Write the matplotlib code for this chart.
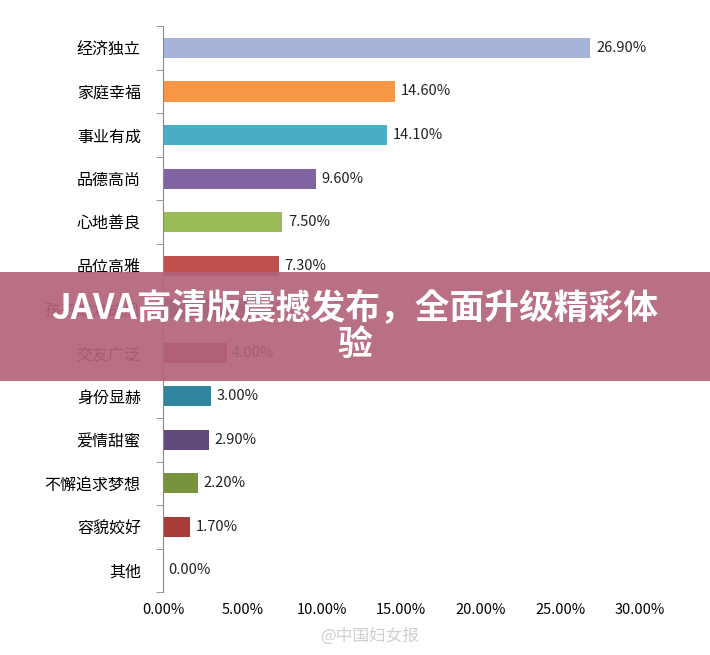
import matplotlib
matplotlib.use("Agg")
import matplotlib.pyplot as plt
from matplotlib import font_manager as fm
from matplotlib.patches import Rectangle
from matplotlib.ticker import FuncFormatter
import glob

for f in glob.glob("/usr/share/fonts/**/*", recursive=True) + glob.glob("/usr/local/share/fonts/**/*", recursive=True):
    if "CJK" in f and (f.endswith(".ttc") or f.endswith(".otf") or f.endswith(".ttf")):
        try:
            fm.fontManager.addfont(f)
        except Exception:
            pass
names = sorted({e.name for e in fm.fontManager.ttflist if "CJK" in e.name})
cjk = "Noto Sans CJK SC" if "Noto Sans CJK SC" in names else (names[0] if names else "DejaVu Sans")
plt.rcParams["font.family"] = [cjk, "DejaVu Sans"]

categories = ["经济独立", "家庭幸福", "事业有成", "品德高尚", "心地善良", "品位高雅",
              "孩子成龙成凤", "交友广泛", "身份显赫", "爱情甜蜜", "不懈追求梦想", "容貌姣好", "其他"]
values = [26.9, 14.6, 14.1, 9.6, 7.5, 7.3, 5.5, 4.0, 3.0, 2.9, 2.2, 1.7, 0.0]
colors = ["#A5B4D8", "#F79646", "#4BACC6", "#8064A2", "#9BBB59", "#C0504D",
          "#4BACC6", "#A5413E", "#31859C", "#604A7B", "#77933C", "#A83A37", "#A5B4D8"]
xticks = [0, 5, 10, 15, 20, 25, 30]

fig = plt.figure(figsize=(7.1, 6.55), dpi=100)
ax = fig.add_axes([0.2296, 0.096, 0.6714, 0.864])
y = list(range(len(categories)))
ax.barh(y, values, height=0.46, color=colors)
for yi, v in zip(y, values):
    ax.text(v + 0.35, yi, f"{v:.2f}%", va="center", ha="left", fontsize=10.5, color="#222")
ax.set_yticks(y)
ax.set_yticklabels(categories, fontsize=11.5)
ax.set_ylim(len(categories) - 0.5, -0.5)
ax.set_xlim(0, 30)
ax.set_xticks(xticks)
ax.xaxis.set_major_formatter(FuncFormatter(lambda v, p: f"{v:.2f}%"))
ax.tick_params(axis="x", labelsize=10.5, length=0, pad=8)
ax.set_yticks([i + 0.5 for i in range(-1, len(categories))], minor=True)
ax.tick_params(axis="y", which="minor", length=5, color="#888")
ax.tick_params(axis="y", which="major", length=0, pad=16)
for s in ["top", "right", "bottom"]:
    ax.spines[s].set_visible(False)
ax.spines["left"].set_color("#888")

fig.patches.append(Rectangle((0, (655 - 381) / 655), 1, 109 / 655, transform=fig.transFigure,
                             facecolor=(0.70, 0.39, 0.48), alpha=0.92, zorder=10))
fig.text(0.5, (655 - 326) / 655, "JAVA高清版震撼发布，全面升级精彩体\n验", ha="center", va="center",
         fontsize=25, fontweight="bold", color="white", zorder=11, linespacing=1.1)
fig.text(0.52, (655 - 636) / 655, "@中国妇女报", ha="center", va="center", fontsize=12,
         color="#bbbbbb", alpha=0.7)
fig.savefig("out.png", dpi=100)
